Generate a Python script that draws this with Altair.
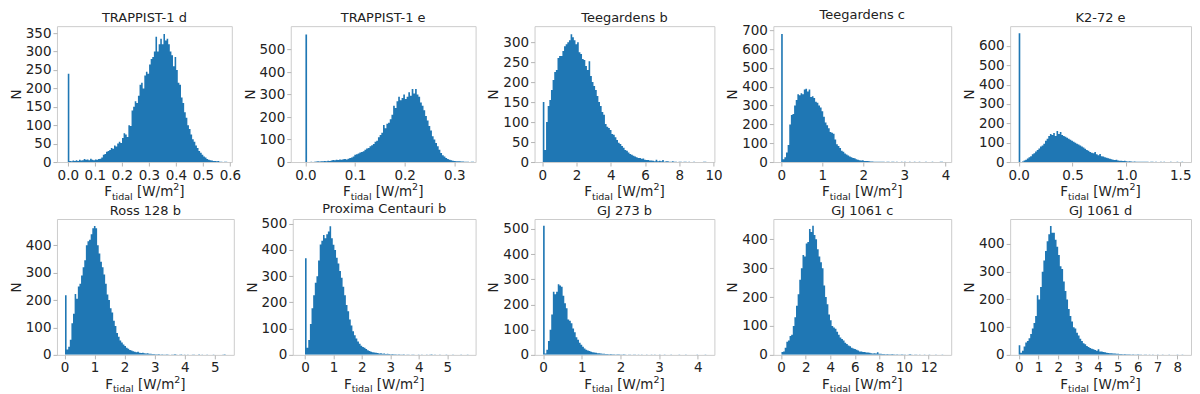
import altair as alt
import pandas as pd

# ---------------- data ----------------
names = ["TRAPPIST-1 d", "TRAPPIST-1 e", "Teegardens b", "Teegardens c", "K2-72 e",
         "Ross 128 b", "Proxima Centauri b", "GJ 273 b", "GJ 1061 c", "GJ 1061 d"]

counts_trappist1d = [240,
    3, 2, 4, 3, 5, 3, 6, 4, 5, 8, 6, 7, 5, 9, 6, 5, 7, 6, 8, 9, 12,
    20, 22, 28, 30, 33, 38, 36, 45, 42, 50, 55, 52, 65, 78, 75, 68, 100, 98,
    140, 150, 165, 160, 180, 210, 215, 200, 235, 245, 240, 265, 280, 285, 300, 340, 300, 320, 335, 320,
    348, 330, 335, 320, 300, 290, 260, 285, 250, 215, 210, 175, 160, 135, 120, 100, 90, 75, 62, 55,
    45, 38, 30, 25, 20, 15, 12, 8, 6, 5, 4, 3, 3, 2, 3, 1, 1, 0, 1, 1]

counts_trappist1e = [567,
    0, 0, 1, 0, 1, 2, 3, 2, 4, 3, 5, 4, 6, 5, 7, 9, 8, 10, 9, 11, 10, 12, 14, 11, 15,
    18, 20, 25, 32, 35, 38, 42, 45, 48, 55, 60, 62, 70, 75, 80, 90, 95, 110, 120, 130,
    165, 150, 170, 175, 190, 210, 250, 240, 270, 290, 275, 285, 300, 280, 290, 310, 295, 325, 305, 325,
    300, 290, 265, 250, 230, 205, 185, 160, 140, 115, 100, 85, 70, 55, 40, 30, 25, 18, 14, 10, 8,
    6, 5, 4, 3, 3, 2, 2, 1, 1, 1, 0, 1, 1]

counts_teegardensb = [150, 30, 100, 140, 155, 180, 205, 225, 230, 260,
    265, 265, 278, 290, 295, 300, 305, 320, 312, 305,
    295, 300, 275, 270, 258, 255, 240, 230, 252, 215,
    200, 190, 180, 165, 150, 140, 125, 118, 95, 88,
    85, 80, 70, 68, 62, 55, 48, 45, 40, 36,
    30, 28, 24, 20, 18, 16, 14, 12, 10, 10,
    8, 9, 6, 5, 5, 4, 4, 3, 2, 6,
    2, 3, 2, 5, 1, 2, 2, 1, 1, 2,
    1, 1, 0, 1, 1, 0, 1, 1, 0, 1,
    0, 0, 1, 0, 0, 0, 0, 0, 1, 1]

counts_teegardensc = [680, 15, 25, 50, 90, 200, 250, 255, 300, 330,
    360, 355, 365, 360, 385, 390, 375, 385, 345, 350,
    340, 320, 315, 300, 290, 270, 240, 210, 195, 180,
    160, 155, 150, 120, 95, 85, 75, 60, 55, 45,
    40, 35, 30, 25, 22, 20, 15, 12, 10, 8,
    9, 6, 5, 5, 4, 3, 3, 2, 2, 2,
    1, 2, 1, 1, 0, 1, 1, 0, 1, 1,
    0, 1, 0, 0, 1, 0, 1, 0, 0, 1,
    0, 0, 1, 0, 0, 1, 0, 0, 0, 1,
    0, 0, 0, 1, 0, 0, 0, 0, 1, 1]

counts_k272e = [665, 0, 3, 8, 12, 18, 25, 30, 40, 45,
    55, 62, 70, 80, 85, 95, 110, 120, 135, 145,
    140, 150, 135, 160, 145, 155, 140, 135, 130, 125,
    120, 115, 110, 105, 100, 95, 90, 85, 80, 75,
    68, 62, 58, 52, 48, 45, 52, 40, 35, 42,
    30, 28, 25, 22, 20, 17, 15, 12, 10, 12,
    8, 7, 6, 5, 6, 4, 3, 4, 3, 2,
    3, 2, 2, 1, 2, 1, 1, 2, 1, 0,
    1, 1, 0, 1, 0, 0, 1, 0, 1, 0,
    0, 0, 1, 0, 0, 0, 1, 0, 0, 1]

counts_ross128b = [218, 20, 30, 55, 115, 150, 222, 205, 250, 260,
    290, 320, 345, 400, 415, 420, 440, 462, 470, 462,
    400, 370, 340, 320, 293, 260, 220, 200, 170, 155,
    125, 105, 80, 66, 52, 45, 38, 32, 26, 22,
    18, 16, 13, 11, 10, 11, 8, 7, 8, 6,
    5, 6, 4, 4, 3, 3, 2, 2, 3, 1,
    2, 1, 1, 2, 1, 0, 1, 1, 3, 1,
    0, 1, 2, 0, 1, 0, 1, 0, 0, 1,
    1, 0, 0, 2, 0, 1, 0, 0, 1, 0,
    0, 0, 1, 0, 0, 0, 0, 0, 1, 2]

counts_proximab = [368, 27, 57, 118, 178, 227, 275, 300, 360, 421,
    435, 457, 445, 460, 470, 490, 445, 420, 400, 370,
    348, 320, 294, 260, 227, 190, 166, 135, 112, 90,
    75, 62, 51, 42, 35, 30, 27, 22, 18, 15,
    12, 10, 9, 8, 7, 5, 6, 4, 5, 3,
    4, 3, 2, 3, 2, 2, 1, 2, 1, 1,
    2, 0, 1, 1, 0, 1, 1, 0, 0, 1,
    0, 1, 0, 0, 1, 0, 1, 2, 0, 1,
    0, 0, 1, 0, 0, 0, 1, 0, 0, 0,
    1, 0, 0, 0, 0, 1, 0, 0, 0, 1]

counts_gj273b = [512, 5, 20, 55, 100, 160, 250, 240, 250, 280,
    275, 270, 235, 205, 185, 140, 135, 125, 105, 90,
    70, 60, 48, 40, 32, 25, 20, 17, 15, 12,
    10, 9, 8, 6, 6, 5, 4, 4, 3, 3,
    2, 3, 2, 2, 1, 2, 2, 1, 1, 2,
    1, 0, 1, 1, 0, 1, 1, 0, 1, 0,
    1, 0, 0, 1, 0, 0, 1, 0, 1, 0,
    0, 1, 0, 0, 1, 0, 0, 0, 1, 0,
    0, 0, 0, 1, 0, 0, 0, 1, 0, 0,
    0, 0, 0, 0, 1, 0, 0, 0, 0, 1]

counts_gj1061c = [10, 12, 25, 45, 50, 65, 70, 100, 130, 170,
    210, 260, 300, 345, 340, 385, 390, 435, 425, 447,
    415, 400, 365, 340, 320, 300, 240, 200, 175, 140,
    120, 100, 95, 90, 80, 70, 60, 55, 50, 42,
    38, 32, 30, 25, 22, 20, 18, 15, 12, 12,
    10, 10, 8, 8, 7, 6, 5, 6, 5, 9,
    4, 4, 3, 3, 2, 3, 2, 2, 3, 2,
    1, 2, 1, 1, 2, 1, 1, 0, 1, 3,
    1, 0, 1, 1, 0, 1, 0, 0, 1, 0,
    0, 1, 0, 0, 0, 1, 0, 0, 0, 1]

counts_gj1061d = [35, 8, 15, 30, 45, 50, 60, 75, 95, 115,
    140, 215, 200, 245, 300, 340, 375, 410, 435, 465,
    440, 440, 415, 390, 360, 320, 310, 265, 230, 200,
    165, 140, 120, 100, 95, 80, 70, 58, 50, 42,
    38, 32, 28, 25, 22, 20, 18, 15, 20, 12,
    12, 10, 9, 8, 7, 6, 6, 5, 5, 4,
    4, 3, 3, 2, 3, 2, 2, 2, 1, 2,
    1, 1, 2, 1, 1, 0, 1, 1, 0, 1,
    0, 1, 0, 0, 1, 0, 0, 1, 0, 0,
    0, 1, 0, 0, 0, 0, 1, 0, 0, 1]

all_counts = [counts_trappist1d, counts_trappist1e, counts_teegardensb, counts_teegardensc,
              counts_k272e, counts_ross128b, counts_proximab, counts_gj273b,
              counts_gj1061c, counts_gj1061d]

# lower edge of first bin and bin width of each histogram (F_tidal, W/m^2)
bin_lo = [0.0, 0.0, 0.03, 0.0, 0.0, 0.017, 0.0, 0.0, 0.03, 0.0]
bin_w = [0.0059, 0.0034, 0.0955, 0.0394, 0.01527, 0.0534, 0.0575, 0.0422, 0.1315, 0.083]

x_domains = [[-0.04, 0.607], [-0.0295, 0.343], [-0.45, 10.05], [-0.19, 4.14], [-0.079, 1.60],
             [-0.25, 5.63], [-0.43, 6.0], [-0.22, 4.43], [-0.63, 13.83], [-0.43, 8.69]]
y_max = [369, 604, 340, 722, 702, 496, 518, 539, 470, 490]

x_ticks = [[0.0, 0.1, 0.2, 0.3, 0.4, 0.5, 0.6], [0.0, 0.1, 0.2, 0.3], [0, 2, 4, 6, 8, 10],
           [0, 1, 2, 3, 4], [0.0, 0.5, 1.0, 1.5], [0, 1, 2, 3, 4, 5], [0, 1, 2, 3, 4, 5],
           [0, 1, 2, 3, 4], [0, 2, 4, 6, 8, 10, 12], [0, 1, 2, 3, 4, 5, 6, 7, 8]]
x_fmt = [".1f", ".1f", "d", "d", ".1f", "d", "d", "d", "d", "d"]
y_ticks = [[0, 50, 100, 150, 200, 250, 300, 350], [0, 100, 200, 300, 400, 500],
           [0, 50, 100, 150, 200, 250, 300], [0, 100, 200, 300, 400, 500, 600, 700],
           [0, 100, 200, 300, 400, 500, 600], [0, 100, 200, 300, 400],
           [0, 100, 200, 300, 400, 500], [0, 100, 200, 300, 400, 500],
           [0, 100, 200, 300, 400], [0, 100, 200, 300, 400]]

# ---------------- styling ----------------
FONT = "DejaVu Sans"
BLUE = "#1f77b4"
TXT = "#222222"
H = 136
row_widths = [[175, 185, 180, 178, 181], [177, 183, 180, 178, 181]]
MAIN, SMALL = 13.5, 9.5

# DejaVu Sans advance widths (em)
CW = {"F": 0.575, "t": 0.392, "i": 0.278, "d": 0.635, "a": 0.613, "l": 0.278, " ": 0.318,
      "[": 0.390, "W": 0.989, "/": 0.337, "m": 0.974, "2": 0.636, "]": 0.390}


def tw(s, size):
    return sum(CW[c] for c in s) * size


def xtitle_layers(w):
    # (text, font size, baseline shift, gap before)
    pieces = [("F", MAIN, 0, 0), ("tidal", SMALL, 3.5, 0), ("[W/m", MAIN, 0, tw(" ", MAIN)),
              ("2", SMALL, -6, 0), ("]", MAIN, 0, 0)]
    total = sum(tw(t, s) + g for t, s, _, g in pieces)
    x = w / 2 - total / 2
    out = []
    for t, s, dy, g in pieces:
        x += g
        out.append(
            alt.Chart(alt.Data(values=[{"k": 1}]))
            .mark_text(font=FONT, fontSize=s, align="left", baseline="alphabetic", color=TXT)
            .encode(x=alt.value(x), y=alt.value(H + 34 + dy), text=alt.value(t))
        )
        x += tw(t, s)
    return out


def panel(i, w):
    lo, bw, cnt = bin_lo[i], bin_w[i], all_counts[i]
    rows = [{"x": lo + k * bw, "n": c} for k, c in enumerate(cnt)]
    rows.append({"x": lo + len(cnt) * bw, "n": 0})
    df = pd.DataFrame(rows)
    hist = alt.Chart(df).mark_area(color=BLUE, interpolate="step-after", opacity=1,
                                   clip=True).encode(
        x=alt.X("x:Q", scale=alt.Scale(domain=x_domains[i], nice=False, zero=False),
                axis=alt.Axis(values=x_ticks[i], format=x_fmt[i], title=None)),
        y=alt.Y("n:Q", scale=alt.Scale(domain=[0, y_max[i]], nice=False),
                axis=alt.Axis(values=y_ticks[i], title="N")),
    )
    return alt.layer(hist, *xtitle_layers(w)).properties(
        width=w, height=H, title=alt.TitleParams(names[i]))


rows_ = []
for r in range(2):
    rows_.append(alt.hconcat(*[panel(r * 5 + c, row_widths[r][c]) for c in range(5)],
                             spacing=59, bounds="flush"))

chart = alt.vconcat(*rows_, spacing=0).properties(
    padding={"left": 0, "top": 0, "right": 0, "bottom": 0}
).configure_view(
    stroke="#cccccc", strokeWidth=1
).configure_axis(
    domain=False, grid=False, tickColor="#b5b5b5", tickSize=4, tickWidth=1,
    labelFont=FONT, labelFontSize=13.5, labelColor=TXT, labelPadding=2,
    labelFlush=False, labelOverlap=False,
    titleFont=FONT, titleFontSize=13.5, titleFontWeight="normal", titleColor=TXT, titlePadding=2
).configure_title(
    font=FONT, fontSize=13, fontWeight="normal", color=TXT, offset=1, anchor="middle"
)

chart.save("out.html", embed_options={"renderer": "svg", "actions": False})
